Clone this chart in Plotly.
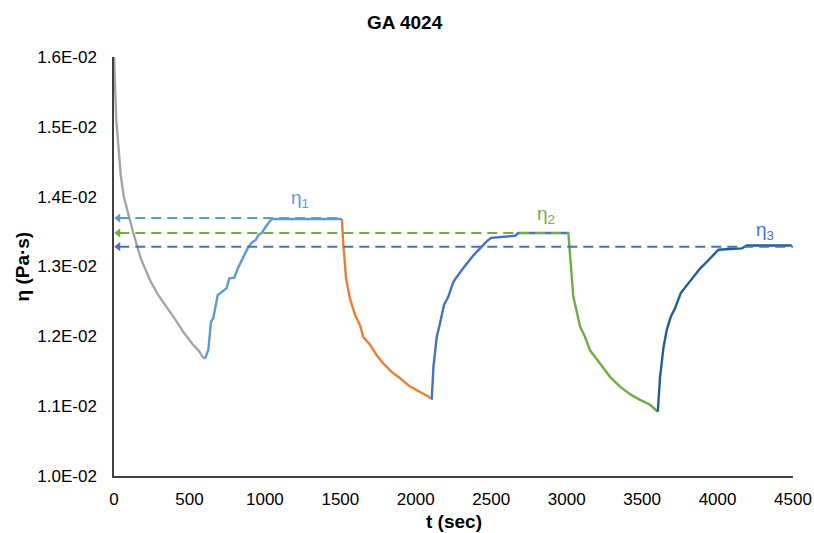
import plotly.graph_objects as go

# ---- data (t in s, eta in Pa·s) ----
t_gray = [0, 5, 15, 30, 45, 65, 85, 102, 128, 155, 177, 200, 240, 290, 350, 400, 460, 520, 560, 590, 603]
v_gray = [0.0160, 0.0156, 0.0151, 0.0147, 0.0143, 0.0140, 0.01385, 0.01369, 0.01348, 0.013275, 0.01312,
          0.0130, 0.0128, 0.0126, 0.01242, 0.01226, 0.01206, 0.01189, 0.0118, 0.0117, 0.01168]

t_lblue = [603, 625, 643, 658, 687, 714, 747, 764, 797, 820, 846, 868, 890, 917, 939, 957, 979, 1012, 1045, 1510]
v_lblue = [0.01168, 0.011804, 0.01221, 0.01226, 0.01259, 0.01263, 0.01269, 0.01283, 0.01284, 0.01297,
           0.01309, 0.01319, 0.01328, 0.01335, 0.01338, 0.01345, 0.01348, 0.01359, 0.01368, 0.01368]

t_orange = [1510, 1520, 1538, 1564, 1597, 1630, 1652, 1697, 1741, 1785, 1840, 1896, 1962, 2028, 2083, 2099]
v_orange = [0.01368, 0.01331, 0.01283, 0.01254, 0.01231, 0.01216, 0.01199, 0.01188, 0.01173, 0.01161,
            0.01149, 0.01140, 0.01128, 0.01121, 0.01114, 0.01111]

t_blue2 = [2099, 2106, 2117, 2139, 2161, 2187, 2216, 2249, 2305, 2348, 2382, 2426, 2470, 2499, 2580, 2658, 2680, 3005]
v_blue2 = [0.01111, 0.01111, 0.01156, 0.01199, 0.01219, 0.01245, 0.01257, 0.01278, 0.01295, 0.01307,
           0.01316, 0.01326, 0.01336, 0.01341, 0.01343, 0.01344, 0.01348, 0.01348]

t_green = [3005, 3011, 3044, 3089, 3122, 3155, 3221, 3287, 3354, 3420, 3486, 3553, 3604]
v_green = [0.01348, 0.01348, 0.01257, 0.01214, 0.01199, 0.01180, 0.01161, 0.01142, 0.01128, 0.01117,
           0.01109, 0.01102, 0.01092]

t_blue3 = [3604, 3619, 3641, 3663, 3690, 3718, 3756, 3807, 3840, 3884, 3939, 3995, 4006, 4083, 4161, 4194, 4492]
v_blue3 = [0.01092, 0.01142, 0.01183, 0.01209, 0.01228, 0.01240, 0.01262, 0.01276, 0.01285, 0.01297,
           0.01309, 0.01321, 0.01324, 0.01325, 0.01326, 0.01330, 0.01330]

# reference levels (dashed arrows): value, end time
eta_levels = [0.013694, 0.01348, 0.013283]
eta_ends = [1510, 3005, 4500]
eta_colors = ["#5B9BD5", "#70AD47", "#4472C4"]
eta_labels = ["η<sub>1</sub>", "η<sub>2</sub>", "η<sub>3</sub>"]
eta_label_t = [1233, 2863, 4315]
eta_label_v = [0.013966, 0.013737, 0.013508]

x_ticks = [0, 500, 1000, 1500, 2000, 2500, 3000, 3500, 4000, 4500]
y_ticks = [0.010, 0.011, 0.012, 0.013, 0.014, 0.015, 0.016]
y_tick_text = ["1.0E-02", "1.1E-02", "1.2E-02", "1.3E-02", "1.4E-02", "1.5E-02", "1.6E-02"]

FONT = "Liberation Sans, Arial, sans-serif"

fig = go.Figure()
segments = [
    (t_gray, v_gray, "#A5A5A5"),
    (t_lblue, v_lblue, "#5B9BD5"),
    (t_orange, v_orange, "#ED7D31"),
    (t_blue2, v_blue2, "#4472C4"),
    (t_green, v_green, "#70AD47"),
    (t_blue3, v_blue3, "#255E91"),
]
for tx, vy, col in segments:
    fig.add_trace(go.Scatter(x=tx, y=vy, mode="lines", line=dict(color=col, width=2.4),
                             showlegend=False, hoverinfo="skip"))

for lvl, end, col in zip(eta_levels, eta_ends, eta_colors):
    fig.add_trace(go.Scatter(x=[35, end], y=[lvl, lvl], mode="lines",
                             line=dict(color=col, width=2, dash="10px,6px"),
                             showlegend=False, hoverinfo="skip"))
    fig.add_trace(go.Scatter(x=[28], y=[lvl], mode="markers",
                             marker=dict(symbol="triangle-left", size=8, color=col, line=dict(width=0)),
                             showlegend=False, hoverinfo="skip"))

for lab, lt, lv, col in zip(eta_labels, eta_label_t, eta_label_v, eta_colors):
    fig.add_annotation(x=lt, y=lv, text=lab, showarrow=False, xanchor="center", yanchor="middle",
                       font=dict(family=FONT, size=19, color=col))

fig.add_annotation(x=0, y=0.5, xref="paper", yref="paper", xshift=-92, text="<b>η (Pa·s)</b>",
                   textangle=-90, showarrow=False, xanchor="center", yanchor="middle",
                   font=dict(family=FONT, size=19, color="#000000"))
fig.add_annotation(x=0.5, y=0, xref="paper", yref="paper", yshift=-45, text="<b>t (sec)</b>",
                   showarrow=False, xanchor="center", yanchor="middle",
                   font=dict(family=FONT, size=19, color="#000000"))

fig.update_layout(
    width=814, height=533,
    margin=dict(l=114, r=21, t=57, b=57, autoexpand=False),
    paper_bgcolor="white", plot_bgcolor="white",
    title=dict(text="<b>GA 4024</b>", x=0.497, xref="container", y=1 - 22 / 533, yref="container",
               xanchor="center", yanchor="middle", font=dict(family=FONT, size=19, color="#000000")),
    xaxis=dict(range=[0, 4500], tickvals=x_ticks, ticktext=[str(v) for v in x_ticks], automargin=False,
               showgrid=False, zeroline=False, showline=True, linecolor="#404040", linewidth=1.5,
               ticks="outside", ticklen=7, tickcolor="rgba(0,0,0,0)",
               tickfont=dict(family=FONT, size=17, color="#000000")),
    yaxis=dict(range=[0.010, 0.016], tickvals=y_ticks, ticktext=y_tick_text, automargin=False,
               showgrid=False, zeroline=False, showline=True, linecolor="#404040", linewidth=1.5,
               ticks="outside", ticklen=12, tickcolor="rgba(0,0,0,0)",
               tickfont=dict(family=FONT, size=17, color="#000000")),
)

fig.write_html("out.html")
